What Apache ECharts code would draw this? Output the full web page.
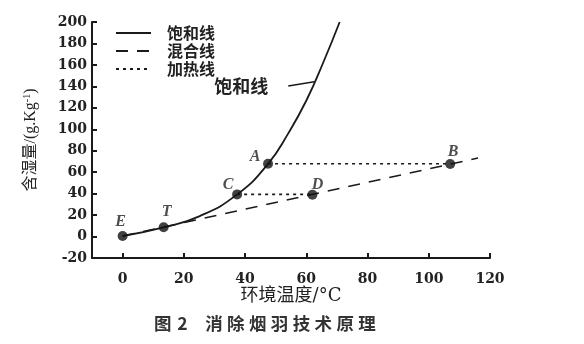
<!DOCTYPE html>
<html><head><meta charset="utf-8">
<script src="https://cdn.jsdelivr.net/npm/echarts@6/dist/echarts.min.js"></script>
<style>html,body{margin:0;padding:0;background:#fff}#c{width:584px;height:344px}</style>
</head><body><div id="c"></div>
<script>
// ---- data ----
const xTicks = [0, 20, 40, 60, 80, 100, 120];
const saturationX = [0, 13.4, 25.2, 37.4, 47.5, 54.1, 60.1, 65.5, 70.9];
const saturationY = [0.5, 8.6, 19.1, 39.3, 67.8, 96.2, 127.3, 162, 200];
const mixingX = [0, 116.1];
const mixingY = [0.5, 73.2];
const heatAB_X = [47.5, 107];
const heatAB_Y = [67.8, 67.8];
const heatCD_X = [37.4, 62];
const heatCD_Y = [39.3, 39.3];
const pointNames = ['E', 'T', 'C', 'A', 'D', 'B'];
const pointX = [0, 13.4, 37.4, 47.5, 62, 107];
const pointY = [0.5, 8.6, 39.3, 67.8, 39.0, 67.6];
const leaderX = [54.1, 62.6];
const leaderY = [140.3, 144.3];
const seriesNames = ['饱和线', '混合线', '加热线'];
const annotationText = '饱和线';
const xName = '环境温度/°C';
const yNameMain = '含湿量/(g.Kg';
const yNameSup = '-1';
const caption = '图\u20042\u2003消\u2005除\u2005烟\u2005羽\u2005技\u2005术\u2005原\u2005理';

// ---- styling ----
const ink = '#1a1a1a';
const serif = '"DejaVu Serif", "Liberation Serif", "Noto Sans CJK SC", serif';
const cjk = '"Noto Sans CJK SC", "DejaVu Sans", sans-serif';
const labelOffsets = { E: [-2, -14], T: [3, -15], C: [-9, -10], A: [-13, -7], D: [5, -10], B: [3, -12] };
const zip = (xs, ys) => xs.map((x, i) => [x, ys[i]]);

const chart = echarts.init(document.getElementById('c'), null, { renderer: 'canvas' });
chart.setOption({
  animation: false,
  backgroundColor: '#fff',
  title: {
    text: caption, left: 149, top: 310,
    textStyle: { fontFamily: cjk, fontSize: 17.5, fontWeight: 'bold', color: '#333' }
  },
  grid: { left: 92, right: 94, top: 22, bottom: 86 },
  legend: {
    orient: 'vertical', left: 110, top: 20, itemWidth: 35, itemHeight: 14, itemGap: 2,
    itemStyle: { opacity: 0 },
    textStyle: { fontFamily: cjk, fontSize: 16, fontWeight: 'bold', color: '#222', padding: [0, 0, 0, 11], lineHeight: 15 },
    data: seriesNames
  },
  xAxis: {
    type: 'value', min: -10, max: 120,
    name: xName, nameLocation: 'middle', nameGap: 29, nameMoveOverlap: false,
    nameTextStyle: { fontFamily: serif, fontSize: 18, color: '#222' },
    axisLine: { show: true, onZero: false, lineStyle: { color: ink, width: 2 } },
    axisTick: { show: true, inside: true, length: 5, customValues: xTicks, lineStyle: { color: ink, width: 2 } },
    axisLabel: { customValues: xTicks, margin: 14, fontFamily: serif, fontSize: 14, fontWeight: 'bold', color: '#222' },
    splitLine: { show: false }
  },
  yAxis: {
    type: 'value', min: -20, max: 200, interval: 20,
    name: '{a|' + yNameMain + '}{s|' + yNameSup + '}{a|)}', nameLocation: 'middle', nameGap: 52, nameRotate: 90,
    nameMoveOverlap: false,
    nameTextStyle: {
      rich: {
        a: { fontFamily: '"Liberation Serif", "Noto Sans CJK SC", serif', fontSize: 16, color: '#222' },
        s: { fontFamily: '"Liberation Serif", serif', fontSize: 10, color: '#222', verticalAlign: 'top', padding: [0, 0, 8, 0] }
      }
    },
    axisLine: { show: true, onZero: false, lineStyle: { color: ink, width: 2 } },
    axisTick: { show: true, inside: true, length: 5, lineStyle: { color: ink, width: 2 } },
    axisLabel: { margin: 5, fontFamily: serif, fontSize: 14, fontWeight: 'bold', color: '#222' },
    splitLine: { show: false }
  },
  series: [
    {
      name: seriesNames[0], type: 'line', data: zip(saturationX, saturationY), smooth: 0.5,
      symbol: 'none', lineStyle: { color: ink, width: 1.8, type: 'solid' }, itemStyle: { color: ink }, z: 3
    },
    {
      name: seriesNames[1], type: 'line', data: zip(mixingX, mixingY),
      symbol: 'none', lineStyle: { color: ink, width: 1.6, type: [12, 9] }, itemStyle: { color: ink }, z: 2
    },
    {
      name: seriesNames[2], type: 'line', data: zip(heatAB_X, heatAB_Y),
      symbol: 'none', lineStyle: { color: ink, width: 1.6, type: [3, 4] }, itemStyle: { color: ink }, z: 2
    },
    {
      name: seriesNames[2], type: 'line', data: zip(heatCD_X, heatCD_Y),
      symbol: 'none', lineStyle: { color: ink, width: 1.6, type: [3, 4] }, itemStyle: { color: ink }, z: 2
    },
    {
      name: 'leader', type: 'line', data: zip(leaderX, leaderY), symbol: 'none',
      lineStyle: { color: ink, width: 1.5 }, z: 3,
      markPoint: {
        symbol: 'circle', symbolSize: 0,
        data: [{ coord: [leaderX[0], leaderY[0]], value: annotationText }],
        label: { show: true, position: 'left', distance: 20, formatter: '{c}',
          fontFamily: cjk, fontSize: 18, fontWeight: 'bold', color: '#222' }
      }
    },
    {
      name: 'points', type: 'scatter', symbol: 'circle', symbolSize: 10, z: 5,
      itemStyle: { color: '#111' },
      data: pointNames.map((n, i) => ({
        name: n, value: [pointX[i], pointY[i]],
        label: { show: true, formatter: n, position: 'inside', offset: labelOffsets[n],
          fontFamily: '"Liberation Serif", serif', fontStyle: 'italic', fontWeight: 'bold', fontSize: 16, color: '#222' }
      }))
    }
  ]
});
</script></body></html>
